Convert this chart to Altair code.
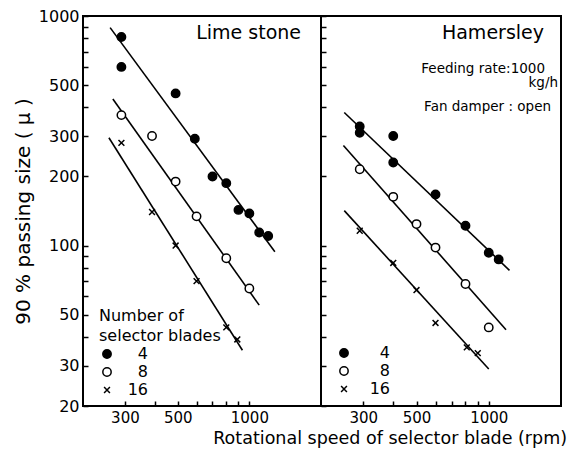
import altair as alt
import pandas as pd

# ---------------- data ----------------
blades = ["4", "8", "16"]

lime4_x = [290, 290, 490, 590, 700, 800, 900, 1000, 1100, 1200]
lime4_y = [810, 600, 460, 292, 200, 187, 143, 138, 114, 110]
lime8_x = [290, 390, 490, 600, 800, 1000]
lime8_y = [370, 300, 190, 134, 88, 65]
lime16_x = [290, 390, 490, 600, 800, 890]
lime16_y = [280, 140, 100, 70, 44, 39]

ham4_x = [290, 290, 400, 400, 600, 800, 1000, 1100]
ham4_y = [330, 310, 300, 230, 167, 122, 93, 87]
ham8_x = [290, 400, 500, 600, 800, 1000]
ham8_y = [215, 163, 124, 98, 68, 44]
ham16_x = [290, 400, 500, 600, 810, 900]
ham16_y = [116, 84, 64, 46, 36, 34]

# fitted lines (end points)
lime_fit_x = {"4": [260, 1280], "8": [267, 1100], "16": [257, 935]}
lime_fit_y = {"4": [890, 94], "8": [435, 55], "16": [295, 35]}
ham_fit_x = {"4": [250, 1220], "8": [248, 1180], "16": [250, 1000]}
ham_fit_y = {"4": [380, 78], "8": [273, 43], "16": [142, 29]}

x_ticks = [300, 400, 500, 600, 700, 800, 900, 1000]
x_labels = [300, 500, 1000]
y_ticks = [20, 30, 40, 50, 60, 70, 80, 90, 100, 200, 300, 400, 500, 600, 700, 800, 900, 1000]
y_labels = [20, 30, 50, 100, 200, 300, 500, 1000]

lime_title = "Lime stone"
ham_texts = ["Hamersley", "Feeding rate:1000", "kg/h", "Fan damper : open"]
legend_title = ["Number of", "selector blades"]
x_title = "Rotational speed of selector blade (rpm)"
y_title = "90 % passing size ( μ )"

FONT = "DejaVu Sans"


def pts(xs_list, ys_list):
    rows = []
    for b, xs, ys in zip(blades, xs_list, ys_list):
        for x, y in zip(xs, ys):
            rows.append({"blades": b, "rpm": x, "size": y})
    return pd.DataFrame(rows)


def fits(fx, fy):
    rows = []
    for b in blades:
        for x, y in zip(fx[b], fy[b]):
            rows.append({"blades": b, "rpm": x, "size": y})
    return pd.DataFrame(rows)


lime_pts = pts([lime4_x, lime8_x, lime16_x], [lime4_y, lime8_y, lime16_y])
ham_pts = pts([ham4_x, ham8_x, ham16_x], [ham4_y, ham8_y, ham16_y])
lime_lines = fits(lime_fit_x, lime_fit_y)
ham_lines = fits(ham_fit_x, ham_fit_y)

xscale = alt.Scale(type="log", domain=[200, 2000], nice=False)
yscale = alt.Scale(type="log", domain=[20, 1000], nice=False)

x_label_expr = "indexof(%s, datum.value) >= 0 ? format(datum.value, 'd') : ''" % str(x_labels)
y_label_expr = "indexof(%s, datum.value) >= 0 ? format(datum.value, 'd') : ''" % str(y_labels)

cross = "M-0.7,-0.7L0.7,0.7M-0.7,0.7L0.7,-0.7"


def xaxis():
    return alt.Axis(values=x_ticks, labelExpr=x_label_expr, tickSize=5, offset=-5,
                    domain=False, grid=False, labelPadding=4, tickColor="black",
                    tickWidth=1.5, labelFontSize=15, labelFont=FONT, labelColor="black",
                    labelFlush=False)


def yaxis(show):
    if show:
        return alt.Axis(values=y_ticks, labelExpr=y_label_expr, tickSize=5, offset=-5,
                        domain=False, grid=False, labelPadding=4, tickColor="black",
                        tickWidth=1.5, labelFontSize=16, labelFont=FONT, labelColor="black",
                        titleFontSize=20, titleFont=FONT, titleFontWeight="normal",
                        titleColor="black", titlePadding=5, labelFlush=False)
    return alt.Axis(values=y_ticks, labels=False, tickSize=5, offset=-5, domain=False,
                    grid=False, tickColor="black", tickWidth=1.5)


def panel(points, lines, show_y, legend):
    base_x = alt.X("rpm:Q", scale=xscale, axis=xaxis(), title=None)
    if show_y:
        base_y = alt.Y("size:Q", scale=yscale, axis=yaxis(True), title=y_title)
    else:
        base_y = alt.Y("size:Q", scale=yscale, axis=yaxis(False), title=None)

    ln = alt.Chart(lines).mark_line(color="black", strokeWidth=1.6).encode(
        x=base_x, y=base_y, detail="blades:N")

    ttl = legend_title if show_y else None
    sh = alt.Shape("blades:N", scale=alt.Scale(domain=blades, range=["circle", "circle", cross]),
                   legend=legend, title=ttl)
    fl = alt.Fill("blades:N", scale=alt.Scale(domain=blades, range=["black", "white", "black"]),
                  legend=legend, title=ttl)
    st = alt.Stroke("blades:N", scale=alt.Scale(domain=blades, range=["black", "black", "black"]),
                    legend=legend, title=ttl)
    pt = alt.Chart(points).mark_point(strokeWidth=1.5, opacity=1,
                                      fillOpacity=1, size=70).encode(
        x=base_x, y=base_y, shape=sh, fill=fl, stroke=st)
    return ln, pt


leg_left = alt.Legend(orient="none", legendX=16, legendY=292, padding=0,
                      titleFontSize=16, titleFont=FONT, titleFontWeight="normal",
                      titleColor="black", titleLineHeight=20, titlePadding=2,
                      labelFontSize=16, labelFont=FONT, labelColor="black",
                      labelAlign="right", labelOffset=33, rowPadding=2,
                      symbolStrokeWidth=1.5, symbolSize=70)
leg_right = alt.Legend(orient="none", legendX=15, legendY=329, padding=0,
                       labelFontSize=16, labelFont=FONT, labelColor="black",
                       labelAlign="right", labelOffset=38, rowPadding=2,
                       symbolStrokeWidth=1.5, symbolSize=70)

l_ln, l_pt = panel(lime_pts, lime_lines, True, leg_left)
r_ln, r_pt = panel(ham_pts, ham_lines, False, leg_right)

lime_txt = alt.Chart(pd.DataFrame({"t": [lime_title]})).mark_text(
    align="right", baseline="middle", fontSize=19, font=FONT, color="black").encode(
    x=alt.value(218), y=alt.value(17), text="t:N")

ham_df = pd.DataFrame({"t": ham_texts})
ham_title = alt.Chart(ham_df.iloc[[0]]).mark_text(
    align="right", baseline="middle", fontSize=19, font=FONT, color="black").encode(
    x=alt.value(223), y=alt.value(17), text="t:N")
ham_feed = alt.Chart(ham_df.iloc[[1]]).mark_text(
    align="right", baseline="middle", fontSize=13.5, font=FONT, color="black").encode(
    x=alt.value(224), y=alt.value(53), text="t:N")
ham_kg = alt.Chart(ham_df.iloc[[2]]).mark_text(
    align="right", baseline="middle", fontSize=13.5, font=FONT, color="black").encode(
    x=alt.value(237), y=alt.value(67), text="t:N")
ham_fan = alt.Chart(ham_df.iloc[[3]]).mark_text(
    align="right", baseline="middle", fontSize=13.5, font=FONT, color="black").encode(
    x=alt.value(230), y=alt.value(91), text="t:N")

left = alt.layer(l_ln, l_pt, lime_txt).properties(width=238, height=390)
right = alt.layer(r_ln, r_pt, ham_title, ham_feed, ham_kg, ham_fan).properties(width=240, height=390)

chart = alt.hconcat(left, right, spacing=0, bounds="flush").resolve_legend(
    shape="independent", fill="independent", stroke="independent").resolve_scale(
    shape="independent", fill="independent", stroke="independent").properties(
    title=alt.TitleParams(text=x_title, orient="bottom", anchor="middle", dx=103,
                          fontSize=17.5, font=FONT, fontWeight="normal", color="black", offset=4),
    padding={"left": 12, "top": 7, "right": 5, "bottom": 5},
    background="white",
).configure_view(stroke="black", strokeWidth=2).configure_point(opacity=1)

chart.save("out.html", embed_options={"renderer": "svg", "actions": False})
